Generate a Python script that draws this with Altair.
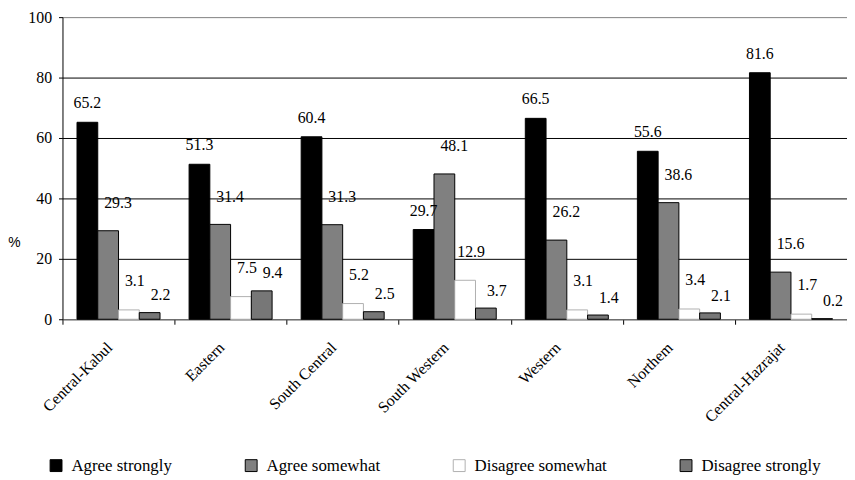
import altair as alt
import pandas as pd

regions = ["Central-Kabul", "Eastern", "South Central", "South Western",
           "Western", "Northem", "Central-Hazrajat"]
series = ["Agree strongly", "Agree somewhat", "Disagree somewhat", "Disagree strongly"]

agree_strongly = [65.2, 51.3, 60.4, 29.7, 66.5, 55.6, 81.6]
agree_somewhat = [29.3, 31.4, 31.3, 48.1, 26.2, 38.6, 15.6]
disagree_somewhat = [3.1, 7.5, 5.2, 12.9, 3.1, 3.4, 1.7]
disagree_strongly = [2.2, 9.4, 2.5, 3.7, 1.4, 2.1, 0.2]

y_ticks = [0, 20, 40, 60, 80, 100]

fills = ["#000000", "#808080", "#ffffff", "#777777"]
strokes = ["#000000", "#000000", "#b0b0b0", "#000000"]
# label offsets (dx, dy) per series, styling only
label_offsets = [(0, -19), (10, -28), (6, -29), (11, -17.5)]

SERIF = "Liberation Serif"

rows = []
for s, vals in zip(series, [agree_strongly, agree_somewhat, disagree_somewhat, disagree_strongly]):
    for r, v in zip(regions, vals):
        rows.append({"region": r, "series": s, "value": v})
df = pd.DataFrame(rows)

x_enc = alt.X(
    "region:N", sort=regions,
    scale=alt.Scale(paddingInner=0, paddingOuter=0),
    axis=alt.Axis(
        title=None, labelAngle=315, labelAlign="right", labelBaseline="top",
        labelOffset=-15, labelPadding=15, labelFont=SERIF,
        labelFontSize=16, labelColor="black", tickBand="extent",
        tickColor="black", tickSize=5, domainColor="#808080", grid=False,
    ),
)
xo_enc = alt.XOffset("series:N", sort=series,
                     scale=alt.Scale(paddingInner=0, paddingOuter=0.7))
y_enc = alt.Y(
    "value:Q",
    scale=alt.Scale(domain=[0, 100], nice=False),
    axis=alt.Axis(
        values=y_ticks, title="%", titleFont="Liberation Sans", titleFontSize=14,
        titleFontWeight="normal", titleAngle=0, titleX=-49, titleY=228,
        titleAlign="center", titleBaseline="middle", titleColor="black",
        labelFont=SERIF, labelFontSize=16, labelColor="black",
        labelPadding=7, tickSize=4, tickColor="black", domainColor="black",
        grid=True,
        gridColor={"condition": {"test": "datum.value >= 100", "value": "#808080"},
                   "value": "#000000"},
        gridOpacity=1, gridWidth=1,
    ),
)

legend = alt.Legend(
    title=None, orient="none", legendX=-15, legendY=444, direction="horizontal",
    columns=4, columnPadding=71, labelOffset=7, symbolType="square",
    symbolSize=144, symbolStrokeWidth=1, labelFont=SERIF,
    labelFontSize=17, labelColor="black", padding=0,
)

base = alt.Chart(df)

bars = base.mark_bar(strokeWidth=1).encode(
    x=x_enc,
    xOffset=xo_enc,
    y=y_enc,
    fill=alt.Fill("series:N", sort=series,
                  scale=alt.Scale(domain=series, range=fills), legend=legend),
    stroke=alt.Stroke("series:N", sort=series,
                      scale=alt.Scale(domain=series, range=strokes), legend=legend),
)

layers = [bars]
for s, (dx, dy) in zip(series, label_offsets):
    layers.append(
        base.transform_filter(alt.datum.series == s).mark_text(
            dx=dx, dy=dy, font=SERIF, fontSize=16, color="black",
            baseline="middle", align="center",
        ).encode(
            x=alt.X("region:N", sort=regions),
            xOffset=alt.XOffset("series:N", sort=series),
            y=alt.Y("value:Q"),
            text=alt.Text("value:Q", format=".1f"),
        )
    )

chart = alt.layer(*layers).properties(
    width=792, height=305,
    autosize=alt.AutoSizeParams(type="none"),
    padding={"left": 55, "top": 7, "right": 0, "bottom": 156},
    background="white",
).configure_view(stroke=None)

chart.save("out.html", embed_options={"renderer": "svg", "actions": False})
